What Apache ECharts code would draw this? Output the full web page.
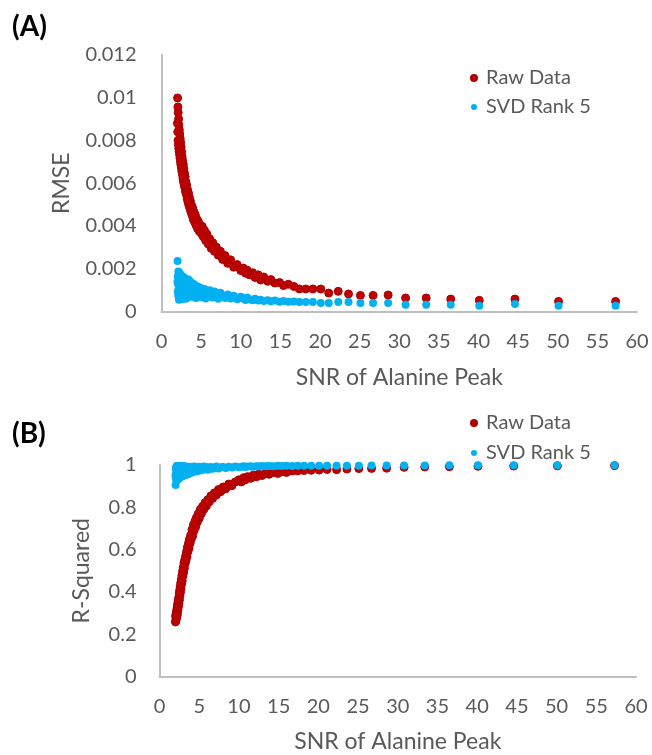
<!DOCTYPE html>
<html>
<head>
<meta charset="utf-8">
<script src="https://cdn.jsdelivr.net/npm/echarts@6/dist/echarts.min.js"></script>
<style>
  html, body { margin: 0; padding: 0; background: #fff; }
  #chart { width: 652px; height: 755px; }
</style>
</head>
<body>
<div id="chart"></div>
<script>
// Signal-to-noise ratio of the alanine peak for each simulated spectrum
const snr = [57.3, 50.1, 44.6, 40.1, 36.5, 33.4, 30.8, 28.6, 26.7, 25.1, 23.6, 22.3, 21.1, 20.1, 19.1, 18.2, 17.4,
  16.7, 16.0, 15.4, 14.9, 14.3, 13.8, 13.4, 12.9, 12.5, 12.2, 11.8, 11.5, 11.1, 10.8, 10.6, 10.3, 10.0,
  9.55, 9.11, 8.72, 8.35, 8.02, 7.71, 7.43, 7.16, 6.91, 6.68, 6.47, 6.27, 6.08, 5.90, 5.73, 5.57, 5.42, 5.28, 5.14, 5.01,
  4.89, 4.77, 4.66, 4.56, 4.46, 4.36, 4.27, 4.18, 4.09, 4.01,
  3.93, 3.86, 3.78, 3.71, 3.65, 3.58, 3.52, 3.46, 3.40, 3.34, 3.29, 3.23, 3.18, 3.13, 3.08, 3.04, 2.99, 2.95, 2.91, 2.86,
  2.82, 2.78, 2.75, 2.71, 2.67, 2.64, 2.60, 2.57, 2.54, 2.51, 2.48, 2.45, 2.42, 2.39, 2.36, 2.33, 2.30, 2.28, 2.25, 2.23,
  2.20, 2.18, 2.16, 2.13, 2.11, 2.09, 2.07, 2.05, 2.03, 2.01];

// RMSE of the raw spectra
const rawRmse = [0.00048, 0.00048, 0.00059, 0.00053, 0.00059, 0.00064, 0.00064, 0.00078, 0.00076, 0.00076, 0.00083, 0.00095, 0.00087, 0.00106, 0.00106, 0.00106, 0.00106,
  0.00118, 0.00128, 0.00122, 0.00136, 0.00134, 0.00150, 0.00142, 0.00162, 0.00148, 0.00172, 0.00160, 0.00182, 0.00172, 0.00194, 0.00180, 0.00204, 0.00192,
  0.00220, 0.00208, 0.00242, 0.00226, 0.00262, 0.00244, 0.00282, 0.00264, 0.00302, 0.00282, 0.00322, 0.00296, 0.00340, 0.00316, 0.00362, 0.00332, 0.00380, 0.00350, 0.00398, 0.00366,
  0.00404, 0.00376, 0.00420, 0.00388, 0.00432, 0.00404, 0.00452, 0.00418, 0.00466, 0.00432,
  0.00484, 0.00450, 0.00498, 0.00466, 0.00516, 0.00482, 0.00534, 0.00496, 0.00554, 0.00512, 0.00570, 0.00528, 0.00590, 0.00548, 0.00606, 0.00560, 0.00630, 0.00578, 0.00646, 0.00592,
  0.00668, 0.00606, 0.00688, 0.00622, 0.00706, 0.00640, 0.00724, 0.00656, 0.00746, 0.00672, 0.00768, 0.00686, 0.00790, 0.00700, 0.00808, 0.00718, 0.00830, 0.00734, 0.00850, 0.00748,
  0.00872, 0.00762, 0.00900, 0.00780, 0.00930, 0.00800, 0.00956, 0.00840, 0.00998, 0.00880];

// RMSE after rank-5 SVD denoising
const svdRmse = [0.00028, 0.00028, 0.00036, 0.00028, 0.00033, 0.00033, 0.00033, 0.00041, 0.00041, 0.00041, 0.00045, 0.00045, 0.00041, 0.00041, 0.00045, 0.00045, 0.00045,
  0.00048, 0.00046, 0.00050, 0.00047, 0.00052, 0.00049, 0.00054, 0.00050, 0.00056, 0.00052, 0.00060, 0.00054, 0.00058, 0.00066, 0.00055, 0.00062, 0.00070,
  0.00058, 0.00074, 0.00062, 0.00080, 0.00064, 0.00072, 0.00088, 0.00060, 0.00078, 0.00094, 0.00066, 0.00084, 0.00100, 0.00070, 0.00090, 0.00062, 0.00106, 0.00080, 0.00096, 0.00068,
  0.00112, 0.00086, 0.00074, 0.00118, 0.00092, 0.00064, 0.00104, 0.00126, 0.00078, 0.00098,
  0.00132, 0.00070, 0.00110, 0.00088, 0.00140, 0.00076, 0.00118, 0.00096, 0.00150, 0.00068, 0.00124, 0.00102, 0.00082, 0.00146, 0.00060, 0.00112, 0.00092, 0.00156, 0.00074, 0.00130,
  0.00104, 0.00066, 0.00162, 0.00088, 0.00120, 0.00140, 0.00058, 0.00100, 0.00168, 0.00080, 0.00126, 0.00148, 0.00062, 0.00110, 0.00176, 0.00090, 0.00136, 0.00070, 0.00182, 0.00116,
  0.00056, 0.00150, 0.00098, 0.00188, 0.00076, 0.00128, 0.00166, 0.00094, 0.00237, 0.00140];

// R-squared of the raw spectra
const rawR2 = [0.997, 0.996, 0.995, 0.994, 0.992, 0.991, 0.989, 0.985, 0.984, 0.983, 0.981, 0.978, 0.979, 0.976, 0.975, 0.974, 0.972,
  0.972, 0.965, 0.968, 0.960, 0.965, 0.956, 0.962, 0.950, 0.957, 0.944, 0.952, 0.937, 0.945, 0.930, 0.940, 0.920, 0.930,
  0.920, 0.902, 0.910, 0.888, 0.896, 0.874, 0.884, 0.858, 0.868, 0.842, 0.854, 0.826, 0.836, 0.806, 0.822, 0.790, 0.804, 0.770, 0.790, 0.748,
  0.770, 0.730, 0.752, 0.708, 0.734, 0.690, 0.716, 0.666, 0.694, 0.650,
  0.668, 0.630, 0.650, 0.606, 0.630, 0.590, 0.612, 0.566, 0.590, 0.548, 0.570, 0.534, 0.552, 0.512, 0.536, 0.492, 0.516, 0.474, 0.498, 0.452,
  0.478, 0.436, 0.460, 0.416, 0.442, 0.398, 0.424, 0.382, 0.408, 0.362, 0.392, 0.346, 0.374, 0.332, 0.360, 0.318, 0.346, 0.304, 0.334, 0.290,
  0.322, 0.282, 0.310, 0.276, 0.300, 0.268, 0.292, 0.262, 0.284, 0.258];

// R-squared after rank-5 SVD denoising
const svdR2 = [0.999, 0.999, 0.999, 0.999, 0.999, 0.998, 0.998, 0.998, 0.998, 0.997, 0.997, 0.997, 0.997, 0.996, 0.996, 0.996, 0.996,
  0.995, 0.996, 0.995, 0.996, 0.994, 0.995, 0.994, 0.995, 0.993, 0.994, 0.992, 0.994, 0.993, 0.990, 0.994, 0.992, 0.989,
  0.993, 0.988, 0.992, 0.986, 0.991, 0.989, 0.984, 0.993, 0.987, 0.982, 0.991, 0.985, 0.978, 0.990, 0.983, 0.993, 0.976, 0.987, 0.980, 0.992,
  0.972, 0.985, 0.990, 0.970, 0.982, 0.993, 0.976, 0.966, 0.988, 0.980,
  0.962, 0.992, 0.974, 0.986, 0.958, 0.990, 0.970, 0.982, 0.954, 0.993, 0.966, 0.978, 0.988, 0.952, 0.995, 0.972, 0.984, 0.948, 0.990, 0.962,
  0.976, 0.994, 0.944, 0.986, 0.968, 0.956, 0.996, 0.980, 0.940, 0.990, 0.964, 0.950, 0.995, 0.974, 0.934, 0.984, 0.958, 0.992, 0.930, 0.970,
  0.996, 0.946, 0.980, 0.926, 0.990, 0.960, 0.938, 0.984, 0.905, 0.950];

const xTicks = { min: 0, max: 60, interval: 5 };
const rmseTicks = { min: 0, max: 0.012, interval: 0.002 };
const r2Ticks = { min: 0, max: 1, interval: 0.2 };

const FONT = 'Lato';
const GREY = '#595959';
const AXIS = '#bfbfbf';
const RED = '#c00000';
const BLUE = '#00b0f0';

const pairs = (ys) => snr.map((x, i) => [x, ys[i]]);

function xAxis(gridIndex) {
  return {
    gridIndex, type: 'value', ...xTicks,
    name: 'SNR of Alanine Peak', nameLocation: 'middle', nameGap: 54,
    nameTextStyle: { fontFamily: FONT, fontSize: 23, color: GREY },
    axisLine: { show: true, lineStyle: { color: AXIS, width: 2 } },
    axisTick: { show: false }, splitLine: { show: false },
    axisLabel: { fontFamily: FONT, fontSize: 20, color: GREY, margin: 20 }
  };
}

function yAxis(gridIndex, name, ticks, gap, margin) {
  return {
    gridIndex, type: 'value', ...ticks,
    name, nameLocation: 'middle', nameGap: gap,
    nameTextStyle: { fontFamily: FONT, fontSize: 23, color: GREY },
    axisLine: { show: true, lineStyle: { color: AXIS, width: 2 } },
    axisTick: { show: false }, splitLine: { show: false },
    axisLabel: { fontFamily: FONT, fontSize: 20, color: GREY, margin }
  };
}

function legend(top, gap) {
  return {
    orient: 'vertical', left: 465, top, itemGap: gap,
    icon: 'circle', itemWidth: 14, itemHeight: 6,
    textStyle: { fontFamily: FONT, fontSize: 20, color: GREY, lineHeight: 22 },
    data: ['Raw Data', 'SVD Rank 5']
  };
}

function scatter(name, xi, ys, color, border) {
  return {
    name, type: 'scatter', xAxisIndex: xi, yAxisIndex: xi,
    symbol: 'circle', symbolSize: 8,
    itemStyle: { color, borderColor: border || color, borderWidth: border ? 1 : 0, opacity: 1 },
    emphasis: { disabled: true },
    data: pairs(ys)
  };
}

const chart = echarts.init(document.getElementById('chart'), null, { renderer: 'canvas' });
chart.setOption({
  animation: false,
  backgroundColor: '#ffffff',
  title: [
    { text: '(A)', left: 7, top: 8, textStyle: { fontFamily: FONT, fontSize: 28, fontWeight: 'bold', color: '#000' } },
    { text: '(B)', left: 7, top: 415, textStyle: { fontFamily: FONT, fontSize: 28, fontWeight: 'bold', color: '#000' } }
  ],
  legend: [legend(62, 7), legend(407, 8)],
  grid: [
    { left: 161.5, top: 54.7, width: 475.5, height: 257 },
    { left: 159.5, top: 465, width: 476.5, height: 211.5 }
  ],
  xAxis: [xAxis(0), xAxis(1)],
  yAxis: [
    yAxis(0, 'RMSE', rmseTicks, 88, 25),
    yAxis(1, 'R-Squared', r2Ticks, 66, 23)
  ],
  series: [
    scatter('Raw Data', 0, rawRmse, RED, '#a80000'),
    scatter('SVD Rank 5', 0, svdRmse, BLUE),
    scatter('Raw Data', 1, rawR2, RED, '#a80000'),
    scatter('SVD Rank 5', 1, svdR2, BLUE)
  ]
});
</script>
</body>
</html>
